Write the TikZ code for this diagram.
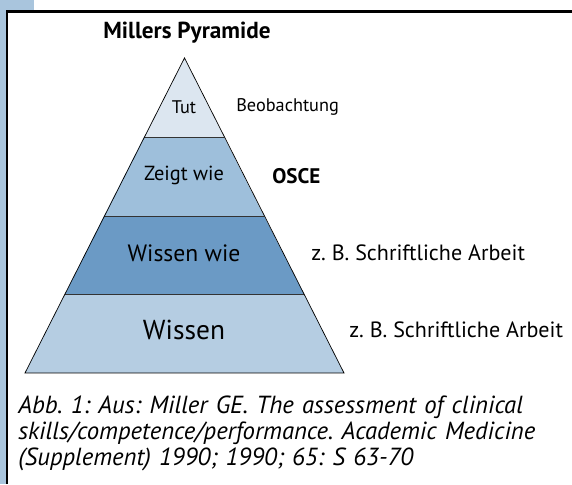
\documentclass[tikz,border=0pt]{standalone}
\usepackage{fontspec}
\setmainfont{PT Sans}
\usepackage{xcolor}
\usepackage{tikz}
\usetikzlibrary{positioning}
\definecolor{mstrip}{HTML}{A9C5DD}
\definecolor{mtut}{HTML}{DCE6F0}
\definecolor{mzeigt}{HTML}{9EBFDB}
\definecolor{mwiewie}{HTML}{6B9AC5}
\definecolor{mwissen}{HTML}{B5CDE2}
\frenchspacing

\begin{document}
\begin{tikzpicture}[x=1cm, y=1cm]
\useasboundingbox (0,0) rectangle (14.3,12.1);
% page strip and frame
\fill[mstrip] (0,0) rectangle (0.85,12.1);
\fill[white] (0.175,0) rectangle (14.3,11.81);
\draw[black, line width=1.8pt] (0.175,0) -- (0.175,11.81) -- (14.3,11.81);
\node[font=\fontsize{16.5}{19}\selectfont\bfseries] (title) at (4.675,11.275) {Millers Pyramide};
% tiers of the pyramid
\fill[mwissen] (0.625,2.775) -- (8.6,2.775) -- (7.6,4.75) -- (1.625,4.75) -- cycle;
\fill[mwiewie] (1.625,4.75) -- (7.6,4.75) -- (6.6,6.7) -- (2.6,6.7) -- cycle;
\fill[mzeigt] (2.6,6.7) -- (6.6,6.7) -- (5.6,8.675) -- (3.6,8.675) -- cycle;
\fill[mtut] (3.6,8.675) -- (5.6,8.675) -- (4.6125,10.65) -- cycle;
\draw[black!80, line width=0.7pt] (1.625,4.75) -- (7.6,4.75);
\draw[black!80, line width=0.7pt] (2.6,6.7) -- (6.6,6.7);
\draw[black!80, line width=0.7pt] (3.6,8.675) -- (5.6,8.675);
\draw[black, line width=0.5pt] (0.625,2.775) -- (4.6125,10.65) -- (8.6,2.775) -- cycle;
% tier labels
\node[font=\fontsize{13}{15}\selectfont] (tut) at (4.6,9.425) {Tut};
\node[font=\fontsize{14.5}{17}\selectfont] (zeigt) at (4.6,7.725) {Zeigt wie};
\node[font=\fontsize{16.8}{19}\selectfont] (wissenwie) at (4.6,5.775) {Wissen wie};
\node[font=\fontsize{19.5}{22}\selectfont] (wissen) at (4.6,3.85) {Wissen};
% assessment labels
\node[font=\fontsize{13}{15}\selectfont, anchor=west, inner sep=0pt] (beob) at (5.9,9.425) {Beobachtung};
\node[font=\fontsize{15}{17}\selectfont\bfseries, anchor=west, inner sep=0pt] (osce) at (6.8,7.7) {OSCE};
\node[font=\fontsize{15.7}{18}\selectfont, anchor=west, inner sep=0pt] (schrift1) at (7.775,5.775) {z. B. Schriftliche Arbeit};
\node[font=\fontsize{15.7}{18}\selectfont, anchor=west, inner sep=0pt] (schrift2) at (8.725,3.85) {z. B. Schriftliche Arbeit};
% caption
\node[font=\fontsize{17.6}{18.5}\selectfont\itshape, anchor=base west, align=left, text width=13.5cm, inner sep=0pt] (caption) at (0.45,1.775)
  {Abb. 1: Aus: Miller GE. The assessment of clinical\\skills/competence/performance. Academic Medicine\\(Supplement) 1990; 1990; 65: S 63-70};
\end{tikzpicture}
\end{document}
